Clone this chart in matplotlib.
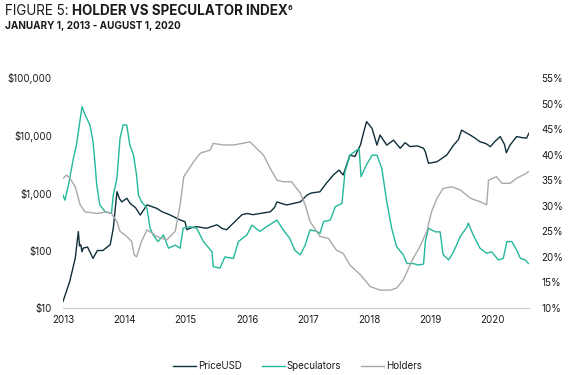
import matplotlib
matplotlib.use("Agg")
import matplotlib.pyplot as plt
from matplotlib.lines import Line2D
from matplotlib.ticker import FixedLocator, FuncFormatter

# ---- data (decimal years) -----------------------------------------------------
price_years = [2013.00, 2013.11, 2013.20, 2013.25, 2013.27, 2013.29, 2013.31, 2013.33,
               2013.40, 2013.49, 2013.56, 2013.65, 2013.77, 2013.82, 2013.88, 2013.92,
               2013.96, 2014.04, 2014.10, 2014.18, 2014.26, 2014.37, 2014.45, 2014.53,
               2014.62, 2014.75, 2014.91, 2014.99, 2015.02, 2015.10, 2015.18, 2015.34,
               2015.51, 2015.60, 2015.67, 2015.83, 2015.92, 2016.00, 2016.10, 2016.21,
               2016.38, 2016.45, 2016.49, 2016.58, 2016.65, 2016.87, 2016.98, 2017.05,
               2017.19, 2017.30, 2017.41, 2017.50, 2017.57, 2017.68, 2017.76, 2017.85,
               2017.90, 2017.95, 2018.04, 2018.12, 2018.17, 2018.28, 2018.39, 2018.50,
               2018.58, 2018.66, 2018.78, 2018.88, 2018.91, 2018.96, 2019.10, 2019.26,
               2019.37, 2019.45, 2019.50, 2019.64, 2019.72, 2019.80, 2019.90, 2019.97,
               2020.05, 2020.13, 2020.20, 2020.23, 2020.29, 2020.40, 2020.48, 2020.56,
               2020.60]
price_usd = [13, 29, 74, 213, 120, 126, 95, 110,
             115, 73, 100, 100, 126, 243, 1054, 800,
             700, 810, 650, 560, 414, 620, 580, 540,
             470, 414, 340, 316, 230, 250, 260, 243,
             280, 240, 230, 340, 420, 440, 420, 440,
             470, 560, 700, 650, 620, 700, 920, 1000,
             1050, 1500, 2060, 2500, 2060, 4580, 4300, 6800,
             11000, 17400, 13300, 6800, 10200, 6800, 8300, 6000,
             7500, 6400, 6600, 6000, 5200, 3280, 3500, 4580,
             6800, 8500, 12400, 10200, 9000, 7800, 7200, 6400,
             8000, 9600, 7000, 5000, 6800, 9600, 9200, 9000,
             11000]

spec_years = [2013.00, 2013.03, 2013.09, 2013.17, 2013.22, 2013.31, 2013.36, 2013.44,
              2013.49, 2013.52, 2013.55, 2013.60, 2013.69, 2013.79, 2013.82, 2013.88,
              2013.93, 2013.98, 2014.04, 2014.09, 2014.15, 2014.20, 2014.23, 2014.28,
              2014.37, 2014.42, 2014.47, 2014.55, 2014.64, 2014.72, 2014.83, 2014.91,
              2014.96, 2015.07, 2015.18, 2015.29, 2015.43, 2015.45, 2015.56, 2015.64,
              2015.78, 2015.86, 2016.00, 2016.08, 2016.21, 2016.32, 2016.49, 2016.59,
              2016.70, 2016.78, 2016.87, 2016.95, 2017.03, 2017.14, 2017.19, 2017.25,
              2017.36, 2017.44, 2017.55, 2017.60, 2017.68, 2017.79, 2017.83, 2017.86,
              2017.95, 2018.04, 2018.12, 2018.20, 2018.28, 2018.36, 2018.44, 2018.55,
              2018.61, 2018.71, 2018.80, 2018.88, 2018.91, 2018.96, 2019.07, 2019.15,
              2019.20, 2019.29, 2019.37, 2019.48, 2019.59, 2019.61, 2019.69, 2019.80,
              2019.91, 2019.99, 2020.10, 2020.18, 2020.24, 2020.32, 2020.40, 2020.46,
              2020.54, 2020.59]
speculators = [32.1, 31.1, 34.1, 39.3, 41.9, 49.4, 47.8, 45.8,
               42.5, 38.6, 34.1, 30.2, 28.8, 28.5, 32.1, 35.4,
               43.2, 45.8, 45.8, 41.9, 39.9, 36.0, 32.1, 30.8,
               29.5, 25.6, 24.3, 23.0, 24.3, 21.7, 22.3, 21.7,
               25.6, 25.9, 25.6, 23.0, 21.0, 18.1, 17.8, 20.0,
               19.7, 23.0, 24.3, 26.2, 25.0, 25.9, 27.2, 25.3,
               23.6, 21.3, 20.4, 22.3, 25.3, 25.0, 24.6, 26.9,
               27.2, 29.8, 30.5, 36.7, 39.9, 40.9, 41.2, 35.7,
               38.0, 39.9, 39.9, 37.3, 30.8, 25.6, 22.0, 20.4,
               18.7, 18.7, 18.4, 18.6, 23.0, 25.6, 24.9, 24.9,
               20.4, 19.4, 21.0, 24.0, 25.9, 26.6, 24.3, 21.7,
               20.7, 21.0, 19.4, 19.7, 23.0, 23.0, 21.3, 19.7,
               19.4, 18.7]

hold_years = [2013.00, 2013.06, 2013.11, 2013.20, 2013.28, 2013.36, 2013.55, 2013.71,
              2013.79, 2013.88, 2013.93, 2014.04, 2014.12, 2014.16, 2014.20, 2014.28,
              2014.37, 2014.53, 2014.69, 2014.83, 2014.91, 2014.97, 2015.13, 2015.24,
              2015.40, 2015.45, 2015.62, 2015.78, 2016.05, 2016.16, 2016.27, 2016.38,
              2016.49, 2016.59, 2016.73, 2016.81, 2016.87, 2016.95, 2017.03, 2017.19,
              2017.33, 2017.46, 2017.57, 2017.68, 2017.85, 2018.01, 2018.17, 2018.34,
              2018.44, 2018.55, 2018.61, 2018.71, 2018.82, 2018.93, 2019.01, 2019.10,
              2019.20, 2019.34, 2019.48, 2019.64, 2019.80, 2019.91, 2019.94, 2020.07,
              2020.16, 2020.29, 2020.40, 2020.55, 2020.59]
holders = [35.4, 36.0, 35.4, 33.7, 30.2, 28.8, 28.5, 28.8,
           28.5, 26.9, 25.0, 24.0, 23.0, 20.4, 20.0, 23.0,
           25.3, 24.0, 23.3, 25.0, 30.2, 35.7, 38.6, 40.3,
           40.9, 42.2, 41.9, 41.9, 42.5, 41.2, 39.9, 37.3,
           35.0, 34.7, 34.7, 33.4, 32.5, 30.2, 26.9, 24.0,
           23.6, 21.3, 20.7, 18.4, 16.5, 14.2, 13.5, 13.5,
           13.9, 15.5, 17.1, 19.7, 22.0, 24.9, 28.8, 31.5,
           33.4, 33.7, 33.1, 31.5, 30.8, 30.2, 35.0, 35.7,
           34.4, 34.4, 35.4, 36.3, 36.7]

year_ticks = [2013, 2014, 2015, 2016, 2017, 2018, 2019, 2020]
price_ticks = [10, 100, 1000, 10000, 100000]
pct_ticks = [10, 15, 20, 25, 30, 35, 40, 45, 50, 55]

PRICE_C = "#0f2f3a"
SPEC_C = "#23b89b"
HOLD_C = "#a9a9a9"
TEXT_C = "#1a1a1a"
FONT = "Inter"

plt.rcParams["font.family"] = [FONT, "DejaVu Sans"]

fig = plt.figure(figsize=(5.69, 3.75), dpi=100)
ax = fig.add_axes([63 / 569, 1 - 308 / 375, 466 / 569, 230 / 375])
ax2 = ax.twinx()

ax.plot(price_years, price_usd, color=PRICE_C, lw=1.0)
ax2.plot(spec_years, speculators, color=SPEC_C, lw=1.0)
ax2.plot(hold_years, holders, color=HOLD_C, lw=1.0)

ax.set_yscale("log")
ax.set_ylim(10, 100000)
ax.set_xlim(2013.0, 2020.6)
ax2.set_ylim(10, 55)

ax.yaxis.set_major_locator(FixedLocator(price_ticks))
ax.yaxis.set_minor_locator(FixedLocator([]))
ax.yaxis.set_major_formatter(FuncFormatter(lambda v, p: f"${v:,.0f}"))
ax2.yaxis.set_major_locator(FixedLocator(pct_ticks))
ax2.yaxis.set_major_formatter(FuncFormatter(lambda v, p: f"{v:.0f}%"))
ax.xaxis.set_major_locator(FixedLocator(year_ticks))
ax.xaxis.set_major_formatter(FuncFormatter(lambda v, p: f"{v:.0f}"))

for a in (ax, ax2):
    for side in ("top", "left", "right", "bottom"):
        a.spines[side].set_visible(False)
    a.tick_params(length=0, labelsize=7, colors=TEXT_C)
ax.spines["bottom"].set_visible(True)
ax.spines["bottom"].set_color("#cfcfcf")
ax.spines["bottom"].set_linewidth(1.0)
ax.tick_params(axis="y", pad=8)
ax2.tick_params(axis="y", pad=9)
ax.tick_params(axis="x", pad=5)

# title: regular prefix + bold remainder + superscript
r = fig.canvas.get_renderer()
t1 = fig.text(5 / 569, 1 - 11 / 375, "FIGURE 5: ", fontsize=9.7, color=TEXT_C, va="center")
x1 = t1.get_window_extent(renderer=r).x1
t2 = fig.text(x1 / 569, 1 - 11 / 375, "HOLDER VS SPECULATOR INDEX", fontsize=9.7,
              fontweight="bold", color=TEXT_C, va="center")
x2 = t2.get_window_extent(renderer=r).x1
fig.text(x2 / 569, 1 - 8 / 375, "6", fontsize=5, fontweight="bold", color=TEXT_C, va="center")
fig.text(5 / 569, 1 - 26 / 375, "JANUARY 1, 2013 - AUGUST 1, 2020", fontsize=7.2,
         fontweight="bold", color=TEXT_C, va="center")

handles = [Line2D([], [], color=PRICE_C, lw=1.0),
           Line2D([], [], color=SPEC_C, lw=1.0),
           Line2D([], [], color=HOLD_C, lw=1.0)]
fig.legend(handles, ["PriceUSD", "Speculators", "Holders"], loc="center",
           bbox_to_anchor=(297.5 / 569, 1 - 366 / 375), ncol=3, frameon=False,
           fontsize=7, handlelength=2.4, handletextpad=0.2, columnspacing=2.0,
           labelcolor=TEXT_C)

fig.savefig("out.png", dpi=100)
